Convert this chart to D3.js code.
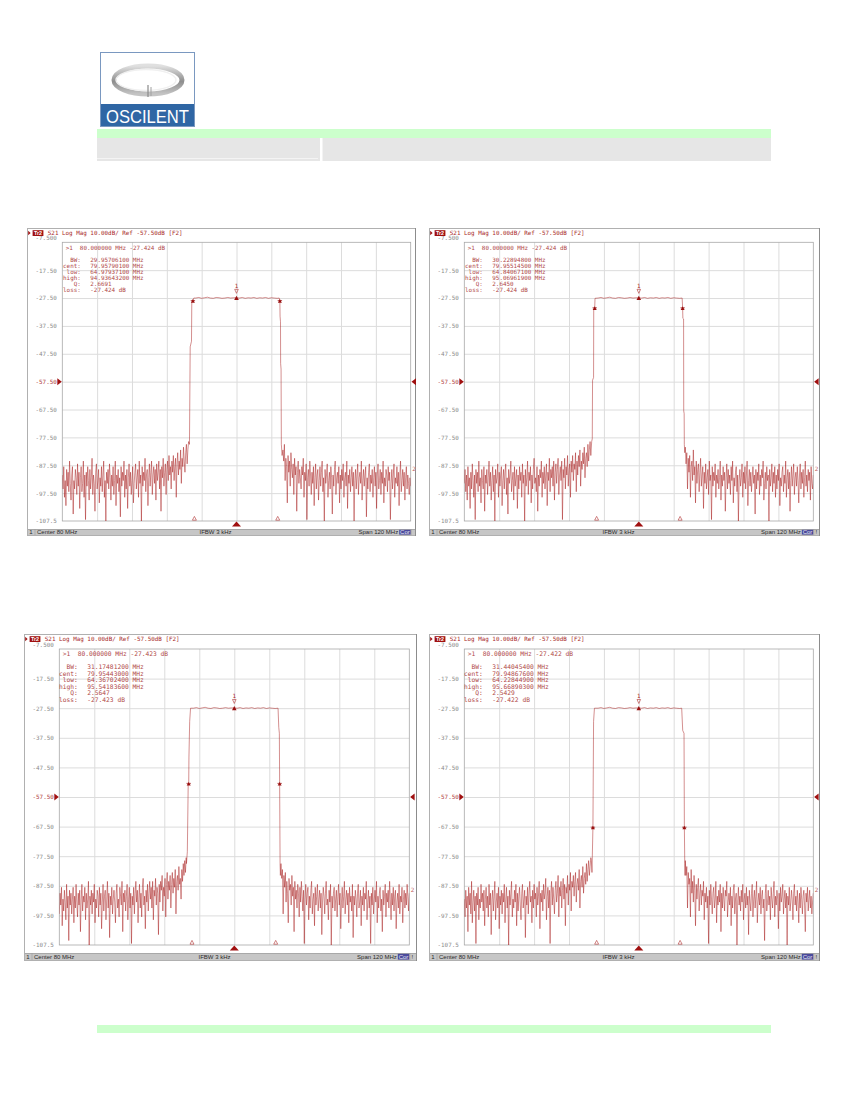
<!DOCTYPE html>
<html><head><meta charset="utf-8">
<script src="https://cdn.jsdelivr.net/npm/d3@7"></script>
<style>body{margin:0;background:#fff}svg{display:block}text{white-space:pre}</style>
</head><body>
<svg id="page" width="850" height="1100"></svg>
<script>
// ---------------- DATA ----------------
const freqStart = 20, freqStop = 140;           // Center 80 MHz, Span 120 MHz
const yTicks = [-7.5,-17.5,-27.5,-37.5,-47.5,-57.5,-67.5,-77.5,-87.5,-97.5,-107.5];
const yTickLabels = ["-7.500","-17.50","-27.50","-37.50","-47.50","-57.50","-67.50","-77.50","-87.50","-97.50","-107.5"];
const xGridFreqs = [32,44,56,68,80,92,104,116,128];
const refLevel = -57.5;
const noiseStep = 0.25, leftNoiseStart = 20, rightNoiseStart = 96;

const markerFreq = [80, 80, 80, 80];
const markerValue = [-27.424, -27.424, -27.423, -27.422];
const bwValue   = [29.957061, 30.228948, 31.174812, 31.440454];
const centValue = [79.957901, 79.955145, 79.954430, 79.948676];
const lowValue  = [64.979371, 64.840671, 64.367024, 64.228449];
const highValue = [94.936432, 95.069619, 95.541836, 95.668903];
const qValue    = [2.6691, 2.6450, 2.5647, 2.5429];
const lossValue = [-27.424, -27.424, -27.423, -27.422];
const bwLevel   = [-28.4, -31.0, -52.9, -67.7];
const deltaMarkers = [65.5, 94.2];
const trace2Label = -89;

// passband ripple, 66 .. 94 MHz, 1 MHz steps
const passRipple = [-27.5,-27.3,-27.6,-27.4,-27.2,-27.5,-27.6,-27.3,-27.4,-27.6,-27.5,-27.3,-27.5,-27.4,-27.42,-27.5,-27.3,-27.6,-27.4,-27.5,-27.3,-27.6,-27.4,-27.5,-27.3,-27.6,-27.4,-27.5,-27.6];

// skirts [MHz, dB]
const skirtL1 = [[63.8,-80],[64.05,-45],[64.5,-43],[64.6,-29],[64.979,-28.4],[65.3,-27.5]];
const skirtR1 = [[94.7,-27.5],[94.936,-28.4],[95.0,-34],[95.15,-36],[95.2,-51],[95.35,-53],[95.45,-80],[95.7,-84]];
const skirtL2 = [[63.8,-79],[64.0,-78],[64.1,-57],[64.45,-56],[64.5,-31.5],[64.84,-31],[64.95,-27.6]];
const skirtR2 = [[94.9,-27.5],[95.07,-31],[95.15,-34.8],[95.4,-35],[95.45,-68],[95.6,-69],[95.65,-80],[95.8,-83]];
const skirtL3 = [[63.6,-80],[63.9,-76],[64.2,-53],[64.367,-52.9],[64.45,-44],[64.7,-32],[65.0,-27.5]];
const skirtR3 = [[95.0,-27.5],[95.25,-34],[95.45,-36],[95.54,-52.9],[95.7,-80],[95.8,-84]];
const skirtL4 = [[63.7,-79],[63.9,-83],[64.228,-67.7],[64.3,-57],[64.45,-32],[64.75,-27.5]];
const skirtR4 = [[94.75,-27.5],[95.1,-35],[95.55,-36],[95.669,-67.7],[95.8,-80],[95.9,-84]];

// noise floor (dB), 0.25 MHz steps: left 20..63.5, right 96..140
const noiseL1 = [-91,-96,-88,-99,-93,-102,-89,-95,-90,-97,-86,-94,-100,-91,-88,-105,-93,-96,-89,-92,-98,-87,-95,-90,-103,
-92,-88,-97,-94,-86,-99,-91,-107,-90,-95,-88,-93,-100,-89,-96,-92,-85,-98,-91,-94,-104,-90,-87,-96,-93,
-89,-101,-92,-95,-88,-97,-91,-86,-99,-93,-108,-90,-94,-89,-96,-87,-92,-100,-91,-95,-88,-98,-93,-86,-102,
-91,-94,-89,-97,-92,-106,-88,-95,-90,-93,-86,-99,-91,-96,-89,-103,-92,-87,-95,-90,-98,-93,-88,-101,-94,
-90,-87,-96,-92,-89,-99,-86,-94,-91,-108,-88,-95,-90,-93,-85,-97,-91,-89,-102,-92,-87,-95,-90,-86,-98,
-91,-88,-94,-89,-100,-87,-93,-90,-86,-96,-89,-104,-88,-92,-85,-95,-90,-87,-98,-89,-86,-93,-84,-91,-88,
-96,-86,-90,-84,-93,-88,-85,-99,-87,-83,-91,-86,-89,-82,-94,-85,-88,-81,-86,-90,-83,-80,-87,-82,-79];
const noiseR1 = [-82,-86,-80,-93,-85,-88,-101,-84,-90,-86,-95,-83,-89,-92,-87,-98,-85,-91,-88,-104,-90,-86,-94,-89,-92,
-96,-88,-91,-85,-99,-90,-93,-87,-107,-92,-89,-95,-86,-91,-98,-90,-94,-88,-102,-92,-87,-96,-91,-89,-100,
-93,-88,-95,-90,-86,-97,-92,-108,-89,-94,-91,-87,-99,-93,-90,-96,-88,-92,-105,-91,-95,-89,-86,-98,-92,
-90,-94,-88,-101,-91,-96,-89,-93,-87,-99,-92,-90,-95,-86,-103,-91,-94,-89,-97,-92,-88,-95,-90,-108,-93,
-89,-96,-91,-87,-98,-92,-90,-94,-86,-100,-93,-89,-95,-91,-88,-106,-92,-96,-90,-87,-97,-91,-94,-89,-99,
-92,-88,-95,-90,-103,-91,-87,-96,-93,-89,-98,-90,-94,-86,-101,-92,-95,-89,-91,-97,-88,-93,-90,-107,-94,
-89,-96,-91,-87,-99,-92,-94,-88,-95,-90,-102,-91,-86,-97,-93,-89,-95,-90,-100,-92,-88,-96,-91,-94,-98,-92,-95];
const noiseL2 = [-94,-89,-97,-91,-100,-88,-95,-92,-103,-90,-96,-87,-93,-99,-91,-107,-89,-94,-90,-97,-86,-95,-92,-101,-89,
-93,-96,-88,-104,-91,-94,-89,-98,-92,-86,-95,-90,-100,-93,-88,-97,-91,-108,-89,-94,-92,-87,-99,-90,-95,
-91,-88,-102,-93,-89,-96,-90,-87,-98,-92,-105,-89,-94,-91,-86,-97,-93,-90,-100,-88,-95,-92,-89,-103,-91,
-96,-88,-93,-90,-99,-87,-94,-91,-108,-89,-95,-92,-86,-98,-90,-93,-88,-101,-91,-96,-89,-85,-94,-92,-97,
-88,-104,-91,-95,-89,-92,-86,-99,-90,-94,-88,-96,-91,-87,-102,-90,-93,-85,-97,-89,-92,-88,-95,-86,-100,
-90,-87,-94,-89,-85,-98,-91,-88,-93,-86,-107,-89,-92,-85,-96,-88,-91,-84,-95,-89,-87,-99,-86,-90,-84,
-93,-87,-89,-83,-97,-86,-91,-84,-88,-82,-95,-86,-89,-83,-87,-81,-92,-85,-83,-88,-80,-86,-82,-79,-84];
const noiseR2 = [-81,-87,-83,-96,-85,-90,-84,-99,-88,-86,-93,-82,-91,-88,-101,-86,-94,-89,-87,-97,-90,-85,-95,-91,-88,
-103,-90,-94,-87,-96,-92,-89,-98,-86,-93,-91,-107,-88,-95,-90,-93,-87,-99,-91,-94,-89,-96,-92,-86,-100,
-91,-95,-88,-93,-90,-104,-92,-87,-96,-89,-94,-91,-98,-88,-93,-86,-101,-92,-95,-90,-88,-97,-91,-108,-93,
-89,-95,-92,-87,-99,-90,-94,-88,-96,-91,-86,-102,-93,-89,-95,-90,-97,-92,-88,-94,-91,-105,-89,-96,-90,
-93,-87,-98,-91,-95,-89,-92,-86,-100,-94,-90,-96,-88,-93,-91,-108,-89,-95,-92,-87,-97,-90,-94,-88,-99,
-91,-96,-89,-93,-87,-102,-92,-95,-90,-88,-97,-91,-94,-86,-99,-92,-89,-96,-90,-104,-93,-88,-95,-91,-87,
-98,-92,-90,-95,-88,-93,-101,-91,-87,-96,-90,-94,-89,-99,-92,-86,-95,-91,-97,-89,-93,-90,-100,-88,-94,-96,-91];
const noiseL3 = [-97,-90,-94,-88,-101,-92,-96,-89,-93,-99,-87,-95,-91,-106,-89,-94,-90,-97,-92,-88,-100,-91,-95,-87,-93,
-98,-90,-94,-89,-103,-92,-87,-96,-91,-93,-88,-99,-90,-95,-92,-86,-108,-91,-94,-89,-97,-90,-93,-87,-100,
-92,-95,-89,-91,-98,-88,-94,-90,-102,-93,-87,-96,-91,-89,-99,-92,-86,-95,-90,-105,-91,-94,-88,-97,-92,
-89,-93,-100,-90,-87,-95,-92,-98,-88,-91,-94,-86,-103,-90,-93,-89,-96,-91,-87,-99,-92,-88,-95,-90,-107,
-91,-94,-88,-97,-90,-86,-93,-89,-100,-92,-87,-95,-90,-98,-88,-85,-94,-91,-102,-89,-93,-87,-96,-90,-86,
-92,-88,-95,-86,-99,-89,-91,-85,-94,-88,-90,-104,-87,-93,-86,-89,-84,-96,-88,-91,-85,-98,-87,-83,-92,
-86,-89,-84,-95,-87,-83,-90,-85,-88,-82,-97,-86,-84,-89,-81,-87,-85,-92,-82,-86,-80,-84,-79,-83,-78];
const noiseR3 = [-80,-85,-82,-97,-84,-88,-83,-93,-86,-90,-100,-85,-89,-87,-94,-84,-91,-88,-103,-86,-92,-89,-95,-87,-90,
-98,-88,-93,-86,-91,-96,-89,-107,-92,-87,-94,-90,-88,-99,-91,-95,-89,-86,-97,-92,-90,-101,-88,-94,-91,
-87,-96,-92,-89,-95,-90,-104,-93,-88,-91,-97,-90,-86,-94,-92,-99,-89,-93,-87,-108,-91,-95,-90,-88,-96,
-92,-89,-98,-91,-87,-94,-90,-102,-93,-88,-95,-91,-86,-97,-92,-89,-94,-90,-100,-88,-93,-91,-96,-87,-105,
-91,-94,-89,-92,-98,-90,-87,-95,-93,-89,-101,-91,-94,-88,-96,-90,-92,-86,-99,-93,-89,-95,-91,-107,-90,
-94,-88,-97,-92,-89,-93,-86,-100,-91,-95,-90,-88,-96,-92,-103,-89,-94,-91,-87,-98,-90,-93,-89,-95,-86,
-92,-99,-90,-94,-88,-96,-91,-89,-102,-93,-90,-95,-87,-97,-91,-93,-88,-100,-92,-89,-95,-90,-94,-87,-91,-96,-90];
const noiseL4 = [-92,-98,-89,-95,-91,-103,-88,-94,-90,-97,-86,-100,-93,-89,-96,-91,-107,-90,-94,-88,-99,-92,-95,-87,-93,
-90,-96,-89,-101,-92,-88,-95,-91,-98,-87,-94,-90,-104,-92,-89,-96,-91,-86,-99,-93,-90,-95,-88,-102,-91,
-94,-89,-97,-90,-93,-87,-100,-92,-88,-95,-91,-108,-89,-94,-90,-86,-98,-92,-95,-89,-93,-87,-101,-90,-96,
-91,-88,-94,-99,-90,-87,-95,-92,-89,-105,-91,-94,-88,-97,-90,-86,-93,-91,-100,-89,-95,-87,-92,-90,-98,
-88,-94,-91,-86,-102,-90,-93,-89,-96,-87,-92,-90,-85,-99,-91,-88,-95,-89,-107,-90,-86,-94,-88,-92,-97,
-89,-86,-93,-90,-84,-98,-88,-91,-86,-95,-89,-85,-92,-87,-101,-88,-90,-84,-94,-87,-89,-83,-96,-86,-88,
-84,-91,-86,-83,-93,-87,-85,-89,-82,-95,-86,-84,-88,-81,-90,-85,-83,-87,-80,-86,-82,-79,-84,-81,-78];
const noiseR4 = [-79,-84,-81,-95,-83,-87,-85,-98,-82,-90,-86,-93,-84,-89,-101,-87,-92,-88,-85,-96,-90,-87,-94,-89,-91,
-86,-99,-90,-93,-88,-95,-91,-107,-89,-94,-87,-92,-97,-90,-88,-95,-92,-86,-100,-91,-94,-89,-93,-87,-103,
-90,-95,-88,-92,-96,-89,-91,-86,-98,-93,-90,-94,-88,-101,-91,-95,-89,-87,-97,-92,-90,-108,-93,-88,-94,
-91,-96,-89,-93,-87,-99,-92,-90,-95,-88,-94,-91,-104,-89,-93,-96,-90,-87,-98,-92,-89,-95,-91,-86,-100,
-93,-90,-94,-88,-97,-91,-89,-95,-92,-106,-90,-87,-96,-93,-89,-94,-91,-99,-88,-92,-95,-90,-86,-98,-91,
-94,-89,-92,-102,-90,-96,-88,-93,-91,-87,-97,-92,-89,-95,-90,-108,-91,-94,-88,-96,-93,-89,-92,-99,-90,
-87,-94,-91,-96,-89,-93,-100,-90,-95,-88,-92,-97,-91,-89,-94,-103,-90,-93,-88,-96,-92,-89,-95,-91,-97,-93,-90];

const noiseLeft = [noiseL1, noiseL2, noiseL3, noiseL4];
const noiseRight = [noiseR1, noiseR2, noiseR3, noiseR4];
const skirtLeft = [skirtL1, skirtL2, skirtL3, skirtL4];
const skirtRight = [skirtR1, skirtR2, skirtR3, skirtR4];

// ---------------- LAYOUT ----------------
const layout = [
  {x0:27, x1:416, y0:228, y1:536, pl:62.3,  pr:410.7, pt:242.3, pb:521, bang:false},
  {x0:429,x1:820, y0:228, y1:536, pl:464.3, pr:813.3, pt:242.3, pb:521, bang:true},
  {x0:24, x1:417, y0:634, y1:961, pl:59.3,  pr:409.3, pt:649,   pb:945, bang:true},
  {x0:429,x1:820, y0:634, y1:961, pl:464.3, pr:813.3, pt:649,   pb:945, bang:true}
];
const RED = "#a82828", TRACE = "#a81c1c", GRID = "#dcdcdc", MONO = "DejaVu Sans Mono", SANS = "Liberation Sans";

const svg = d3.select("#page");
const defs = svg.append("defs");

// ---------- page header / footer ----------
const logo = svg.append("g");
logo.append("rect").attr("x",100.5).attr("y",52.5).attr("width",94).attr("height",74).attr("fill","#fff").attr("stroke","#7a98c0");
const lg = defs.append("linearGradient").attr("id","ringG").attr("x1","0").attr("y1","0").attr("x2","0").attr("y2","1");
lg.append("stop").attr("offset","0").attr("stop-color","#e0e0e0");
lg.append("stop").attr("offset","0.55").attr("stop-color","#8e8e8e");
lg.append("stop").attr("offset","1").attr("stop-color","#c4c4c4");
logo.append("ellipse").attr("cx",148).attr("cy",80).attr("rx",34).attr("ry",14).attr("fill","none").attr("stroke","url(#ringG)").attr("stroke-width",5);
logo.append("ellipse").attr("cx",146).attr("cy",80).attr("rx",30).attr("ry",10.5).attr("fill","none").attr("stroke","#f0f0f0").attr("stroke-width",1.4);
logo.append("line").attr("x1",148).attr("y1",85).attr("x2",148).attr("y2",97).attr("stroke","#8a8a8a").attr("stroke-width",1.2);
logo.append("line").attr("x1",151).attr("y1",87).attr("x2",151).attr("y2",96).attr("stroke","#a0a0a0").attr("stroke-width",1);
logo.append("rect").attr("x",101).attr("y",104).attr("width",93).attr("height",22).attr("fill","#2f66a4");
logo.append("text").attr("x",106).attr("y",123).attr("fill","#fff").attr("font-family","Liberation Sans Narrow, Liberation Sans").attr("font-size",18)
  .attr("textLength",83).attr("lengthAdjust","spacingAndGlyphs").text("OSCILENT");

svg.append("rect").attr("x",97).attr("y",129).attr("width",674).attr("height",9).attr("fill","#ccffcc");
svg.append("rect").attr("x",97).attr("y",138).attr("width",674).attr("height",23).attr("fill","#e6e6e6");
svg.append("rect").attr("x",320).attr("y",138).attr("width",2.5).attr("height",23).attr("fill","#fff");
svg.append("line").attr("x1",97).attr("x2",318).attr("y1",158.5).attr("y2",158.5).attr("stroke","#f4f4f4");
svg.append("rect").attr("x",97).attr("y",1025).attr("width",674).attr("height",8).attr("fill","#ccffcc");

// ---------- charts ----------
layout.forEach((L, i) => drawChart(L, i));

function tri(cx, cy, w, h, dir) {
  if (dir === "up") return `M${cx},${cy}L${cx-w/2},${cy+h}L${cx+w/2},${cy+h}Z`;
  if (dir === "down") return `M${cx},${cy}L${cx-w/2},${cy-h}L${cx+w/2},${cy-h}Z`;
  if (dir === "right") return `M${cx},${cy}L${cx-h},${cy-w/2}L${cx-h},${cy+w/2}Z`;
  return `M${cx},${cy}L${cx+h},${cy-w/2}L${cx+h},${cy+w/2}Z`;
}

function drawChart(L, k) {
  const g = svg.append("g");
  const H = L.pb - L.pt;
  const x = d3.scaleLinear().domain([freqStart, freqStop]).range([L.pl, L.pr]);
  const y = d3.scaleLinear().domain([-107.5, -7.5]).range([L.pb, L.pt]).clamp(true);

  defs.append("clipPath").attr("id","clip"+k).append("rect")
    .attr("x",L.pl).attr("y",L.pt-1).attr("width",L.pr-L.pl).attr("height",H+1.5);

  // window frame
  g.append("rect").attr("x",L.x0+0.5).attr("y",L.y0+0.5).attr("width",L.x1-L.x0-1).attr("height",L.y1-L.y0-1)
    .attr("fill","#fff").attr("stroke","#b0b0b0");
  g.append("line").attr("x1",L.x1-0.5).attr("x2",L.x1-0.5).attr("y1",L.y0).attr("y2",L.y1).attr("stroke","#8c8c8c");

  // grid via axes
  const gx = g.append("g").attr("transform",`translate(0,${L.pb})`)
    .call(d3.axisBottom(x).tickValues(xGridFreqs).tickSize(-H).tickFormat(""));
  gx.select(".domain").remove();
  gx.selectAll("line").attr("stroke",GRID);
  const gy = g.append("g").attr("transform",`translate(${L.pl},0)`)
    .call(d3.axisLeft(y).tickValues(yTicks.slice(1,-1)).tickSize(-(L.pr-L.pl)).tickFormat(""));
  gy.select(".domain").remove();
  gy.selectAll("line").attr("stroke",GRID);
  g.append("rect").attr("x",L.pl).attr("y",L.pt).attr("width",L.pr-L.pl).attr("height",H)
    .attr("fill","none").attr("stroke","#a8a8a8").attr("stroke-width",0.8);

  // y labels
  const ya = g.append("g").attr("transform",`translate(${L.pl-5.5},0)`)
    .call(d3.axisLeft(y).tickValues(yTicks).tickSize(0).tickPadding(0).tickFormat((d,i)=>yTickLabels[i]));
  ya.select(".domain").remove();
  ya.selectAll("text").attr("font-family",MONO).attr("font-size",5.9)
    .attr("fill",d => d === refLevel ? "#b04040" : "#8a8a8a")
    .attr("dy",(d,i)=> i === 0 ? "-0.45em" : "0.32em");

  // ref level triangles
  g.append("path").attr("d",tri(L.pl-0.5, y(refLevel), 7, 4.5, "right")).attr("fill","#a01010");
  g.append("path").attr("d",tri(L.pr+0.8, y(refLevel), 7, 4.5, "left")).attr("fill","#a01010");

  // header
  g.append("path").attr("d",tri(L.x0+3.6, L.y0+5, 4.4, 2.4, "right")).attr("fill","#a01010");
  g.append("rect").attr("x",L.x0+5.6).attr("y",L.y0+2.2).attr("width",10.8).attr("height",5.8).attr("fill","#a01010");
  g.append("text").attr("x",L.x0+11).attr("y",L.y0+7).attr("text-anchor","middle").attr("fill","#fff")
    .attr("font-family",SANS).attr("font-size",5.4).attr("font-weight","bold").text("Tr2");
  g.append("text").attr("x",L.x0+20.8).attr("y",L.y0+7.1).attr("fill",RED).attr("font-family",MONO).attr("font-size",5.9)
    .text("S21 Log Mag 10.00dB/ Ref -57.50dB [F2]");

  // trace
  const pts = [];
  noiseLeft[k].forEach((v,i)=>pts.push([leftNoiseStart + i*noiseStep, v]));
  skirtLeft[k].forEach(p=>pts.push(p));
  passRipple.forEach((v,i)=>{ const f = 66 + i; if (f < skirtRight[k][0][0]) pts.push([f, v]); });
  skirtRight[k].forEach(p=>pts.push(p));
  noiseRight[k].forEach((v,i)=>pts.push([rightNoiseStart + i*noiseStep, v]));
  const segs = d3.pairs(pts);
  g.append("g").attr("clip-path",`url(#clip${k})`).selectAll("line").data(segs).join("line")
    .attr("x1",d=>x(d[0][0])).attr("y1",d=>y(d[0][1])).attr("x2",d=>x(d[1][0])).attr("y2",d=>y(d[1][1]))
    .attr("stroke",TRACE).attr("stroke-opacity",0.55).attr("stroke-width",0.9);

  // bandwidth markers (low/high)
  [lowValue[k], highValue[k]].forEach(f=>{
    const px = x(f), py = y(bwLevel[k]);
    g.append("path").attr("d",tri(px, py-1.5, 4, 3.6, "up")).attr("fill","#9a1010");
    g.append("line").attr("x1",px-2.2).attr("x2",px+2.2).attr("y1",py).attr("y2",py).attr("stroke","#9a1010").attr("stroke-width",0.7);
  });

  // marker 1
  const mx = x(markerFreq[k]), my = y(markerValue[k]);
  g.append("path").attr("d",tri(mx, my-2, 4.6, 4.2, "up")).attr("fill","#9a1010");
  g.append("path").attr("d",tri(mx, my-4.5, 3.6, 4, "down")).attr("fill","none").attr("stroke","#b03030").attr("stroke-width",0.6);
  g.append("text").attr("x",mx).attr("y",my-10).attr("text-anchor","middle").attr("fill",RED)
    .attr("font-family",MONO).attr("font-size",5.9).text("1");

  // bottom markers
  deltaMarkers.forEach(f=>{
    g.append("path").attr("d",tri(x(f), L.pb-4.6, 4, 3.8, "up")).attr("fill","none").attr("stroke","#b03030").attr("stroke-width",0.6);
  });
  g.append("path").attr("d",tri(x(markerFreq[k]), L.pb+0.6, 9, 4.8, "up")).attr("fill","#a01010");

  // trace 2 label
  g.append("text").attr("x",L.pr+1.5).attr("y",y(trace2Label)).attr("dy","0.32em").attr("fill","#c06060")
    .attr("font-family",MONO).attr("font-size",5.9).text("2");

  // marker readout
  const f8 = v => v.toFixed(8);
  const tx = L.pl + 3.4, lx = L.pl + 18.5, vx = L.pl + 28;
  const fs = 5.9 * (H/278.7);
  g.append("text").attr("x",tx).attr("y",L.pt+5.2).attr("dy","0.35em").attr("fill","#b04848").attr("font-family",MONO).attr("font-size",fs)
    .text(`>1  ${markerFreq[k].toFixed(6)} MHz ${markerValue[k].toFixed(3)} dB`);
  const rows = [["BW:", f8(bwValue[k])+" MHz"],["cent:", f8(centValue[k])+" MHz"],["low:", f8(lowValue[k])+" MHz"],
                ["high:", f8(highValue[k])+" MHz"],["Q:", qValue[k].toFixed(4)],["loss:", lossValue[k].toFixed(3)+" dB"]];
  const r0 = L.pt + 0.0615*H, dr = 0.0218*H;
  rows.forEach((r,i)=>{
    const yy = r0 + i*dr;
    g.append("text").attr("x",lx).attr("y",yy).attr("dy","0.35em").attr("text-anchor","end").attr("fill","#b04848")
      .attr("font-family",MONO).attr("font-size",fs).text(r[0]);
    g.append("text").attr("x",vx).attr("y",yy).attr("dy","0.35em").attr("fill","#b04848")
      .attr("font-family",MONO).attr("font-size",fs).text(r[1]);
  });

  // status bar
  const sy = L.pb + 8, sh = L.y1 - 1 - sy;
  g.append("rect").attr("x",L.x0+1).attr("y",sy).attr("width",L.x1-L.x0-2).attr("height",sh).attr("fill","#c6c6c6");
  g.append("line").attr("x1",L.x0+1).attr("x2",L.x1-1).attr("y1",sy+0.5).attr("y2",sy+0.5).attr("stroke","#a8a8a8");
  g.append("line").attr("x1",L.x0+8).attr("x2",L.x0+8).attr("y1",sy).attr("y2",sy+sh).attr("stroke","#9a9a9a").attr("stroke-width",0.6);
  const st = (xx, anchor, s) => g.append("text").attr("x",xx).attr("y",sy+sh/2).attr("dy","0.36em").attr("text-anchor",anchor)
      .attr("fill","#2a2a2a").attr("font-family",SANS).attr("font-size",6).text(s);
  st(L.x0+2.2, "start", "1");
  st(L.x0+10, "start", "Center 80 MHz");
  st((L.x0+L.x1)/2 - 6, "middle", "IFBW 3 kHz");
  st(L.pr - 12.5, "end", "Span 120 MHz");
  g.append("rect").attr("x",L.pr-11.5).attr("y",sy+0.8).attr("width",11.5).attr("height",sh-1.2).attr("fill","#4a4a9c");
  g.append("text").attr("x",L.pr-5.75).attr("y",sy+sh/2).attr("dy","0.36em").attr("text-anchor","middle").attr("fill","#e8e8f4")
    .attr("font-family",SANS).attr("font-size",6).text("Cor");
  g.append("line").attr("x1",L.pr+0.5).attr("x2",L.pr+0.5).attr("y1",sy).attr("y2",sy+sh).attr("stroke","#9a9a9a").attr("stroke-width",0.6);
  if (L.bang) g.append("text").attr("x",L.pr+3).attr("y",sy+sh/2).attr("dy","0.36em").attr("text-anchor","middle").attr("fill","#2a2a2a")
    .attr("font-family",SANS).attr("font-size",6).text("!");
}
</script>
</body></html>
